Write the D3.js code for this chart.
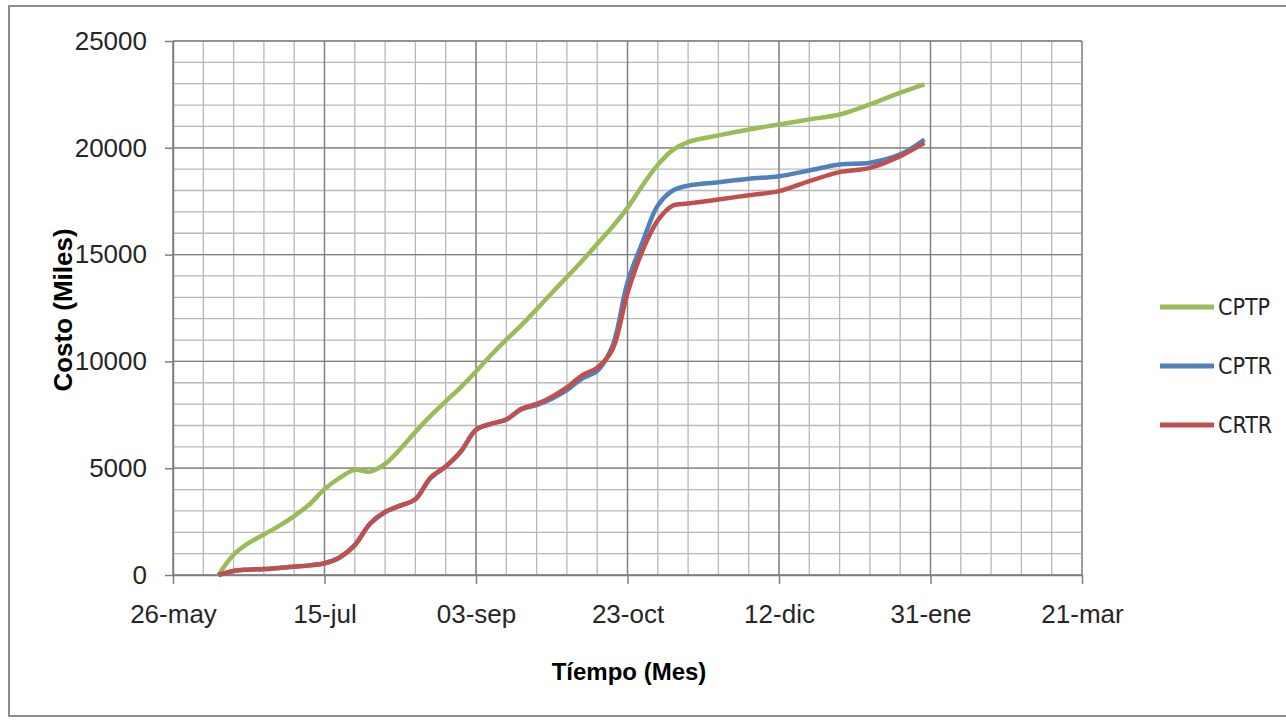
<!DOCTYPE html>
<html>
<head>
<meta charset="utf-8">
<script src="https://cdn.jsdelivr.net/npm/d3@7"></script>
<style>
  html, body { margin: 0; padding: 0; background: #ffffff; }
  svg { display: block; }
  text { font-family: "Liberation Sans", Arial, sans-serif; }
</style>
</head>
<body>
<svg id="chart" width="1286" height="728"></svg>
<script>
// Sample dates (cumulative cost readings)
const fechas = [
  "2015-06-10","2015-06-15","2015-06-20","2015-06-25","2015-06-30",
  "2015-07-05","2015-07-10","2015-07-15","2015-07-20","2015-07-25",
  "2015-07-30","2015-08-04","2015-08-09","2015-08-14","2015-08-19",
  "2015-08-24","2015-08-29","2015-09-03","2015-09-08","2015-09-13",
  "2015-09-18","2015-09-23","2015-09-28","2015-10-03","2015-10-08",
  "2015-10-13","2015-10-18","2015-10-23","2015-10-28","2015-11-02",
  "2015-11-07","2015-11-12","2015-11-22","2015-12-02","2015-12-12",
  "2015-12-22","2016-01-01","2016-01-11","2016-01-21","2016-01-29"
];

// Costo presupuestado del trabajo programado
const cptp = [
  0, 950, 1500, 1900, 2300,
  2760, 3300, 4020, 4550, 4920,
  4840, 5200, 5900, 6700, 7450,
  8130, 8800, 9530, 10300, 11020,
  11700, 12440, 13200, 13950, 14700,
  15500, 16300, 17190, 18250, 19200,
  19900, 20270, 20580, 20860, 21090,
  21330, 21560, 22030, 22580, 22970
];

// Costo presupuestado del trabajo realizado
const cptr = [
  0, 190, 250, 280, 330,
  390, 450, 550, 820, 1400,
  2400, 2950, 3250, 3550, 4550,
  5080, 5780, 6800, 7080, 7280,
  7750, 7950, 8250, 8650, 9200,
  9550, 10700, 13700, 15600, 17300,
  18000, 18230, 18390, 18550, 18670,
  18940, 19220, 19300, 19690, 20390
];

// Costo real del trabajo realizado
const crtr = [
  0, 190, 250, 280, 330,
  390, 450, 550, 820, 1400,
  2400, 2950, 3250, 3550, 4550,
  5080, 5780, 6800, 7080, 7280,
  7780, 8010, 8340, 8780, 9350,
  9700, 10550, 13200, 15200, 16600,
  17300, 17390, 17580, 17780, 17970,
  18440, 18860, 19060, 19610, 20230
];

const series = [
  { name: "CPTP", values: cptp, color: "#9bbb59" },
  { name: "CPTR", values: cptr, color: "#4f81bd" },
  { name: "CRTR", values: crtr, color: "#c0504d" }
];

const fechaInicio = "2015-05-26";
const fechaFin = "2016-03-21";
const yTicks = [0, 5000, 10000, 15000, 20000, 25000];
const meses = ["ene","feb","mar","abr","may","jun","jul","ago","sep","oct","nov","dic"];

const parse = d3.utcParse("%Y-%m-%d");
const fmtDia = d3.utcFormat("%d");
const fmtFecha = d => fmtDia(d) + "-" + meses[d.getUTCMonth()];

const svg = d3.select("#chart");
const W = 1286, H = 728;
const plot = { left: 173, right: 1082, top: 41, bottom: 575 };

// Chart frame
svg.append("rect")
  .attr("x", 9).attr("y", 6)
  .attr("width", W + 10).attr("height", 710)
  .attr("fill", "#ffffff")
  .attr("stroke", "#8c8c8c").attr("stroke-width", 2);

const x = d3.scaleUtc()
  .domain([parse(fechaInicio), parse(fechaFin)])
  .range([plot.left, plot.right]);

const y = d3.scaleLinear()
  .domain([0, 25000])
  .range([plot.bottom, plot.top]);

const start = parse(fechaInicio);
const majorX = d3.range(0, 301, 50).map(n => d3.utcDay.offset(start, n));
const minorX = d3.range(0, 301, 10).map(n => d3.utcDay.offset(start, n));
const minorY = d3.range(0, 25001, 1000);

const grid = svg.append("g");
// minor gridlines
grid.selectAll("line.vmin").data(minorX).join("line")
  .attr("x1", d => x(d)).attr("x2", d => x(d))
  .attr("y1", plot.top).attr("y2", plot.bottom)
  .attr("stroke", "#b8b8b8").attr("stroke-width", 1.3);
grid.selectAll("line.hmin").data(minorY).join("line")
  .attr("x1", plot.left).attr("x2", plot.right)
  .attr("y1", d => y(d)).attr("y2", d => y(d))
  .attr("stroke", "#b8b8b8").attr("stroke-width", 1.3);
// major gridlines
grid.selectAll("line.vmaj").data(majorX).join("line")
  .attr("x1", d => x(d)).attr("x2", d => x(d))
  .attr("y1", plot.top).attr("y2", plot.bottom)
  .attr("stroke", "#7f7f7f").attr("stroke-width", 1.3);
grid.selectAll("line.hmaj").data(yTicks).join("line")
  .attr("x1", plot.left).attr("x2", plot.right)
  .attr("y1", d => y(d)).attr("y2", d => y(d))
  .attr("stroke", "#7f7f7f").attr("stroke-width", 1.3);

// Axes
const xAxis = d3.axisBottom(x).tickValues(majorX).tickFormat(fmtFecha)
  .tickSizeInner(9).tickSizeOuter(0).tickPadding(21);
const yAxis = d3.axisLeft(y).tickValues(yTicks).tickFormat(d3.format("d"))
  .tickSizeInner(8).tickSizeOuter(0).tickPadding(18);

const gx = svg.append("g").attr("transform", `translate(0,${plot.bottom})`).call(xAxis);
const gy = svg.append("g").attr("transform", `translate(${plot.left},0)`).call(yAxis);
[gx, gy].forEach(g => {
  g.select(".domain").attr("stroke", "#7f7f7f").attr("stroke-width", 1.5);
  g.selectAll(".tick line").attr("stroke", "#7f7f7f").attr("stroke-width", 1.5);
  g.selectAll(".tick text")
    .attr("fill", "#262626")
    .style("font-family", '"Liberation Sans", Arial, sans-serif')
    .style("font-size", "26px");
});

// Series lines
const line = d3.line()
  .x((d, i) => x(parse(fechas[i])))
  .y(d => y(d))
  .curve(d3.curveCatmullRom.alpha(0.5));

svg.append("g").selectAll("path").data(series).join("path")
  .attr("d", s => line(s.values))
  .attr("fill", "none")
  .attr("stroke", s => s.color)
  .attr("stroke-width", 4.5)
  .attr("stroke-linejoin", "round")
  .attr("stroke-linecap", "butt");

// Axis titles
svg.append("text")
  .attr("x", 629).attr("y", 680)
  .attr("text-anchor", "middle")
  .style("font-weight", "bold").style("font-size", "24px")
  .attr("fill", "#000")
  .text("Tíempo (Mes)");

svg.append("text")
  .attr("transform", "translate(72,310) rotate(-90)")
  .attr("text-anchor", "middle")
  .style("font-weight", "bold").style("font-size", "26px")
  .attr("fill", "#000")
  .text("Costo (Miles)");

// Legend
const legend = svg.append("g").selectAll("g").data(series).join("g")
  .attr("transform", (d, i) => `translate(1160,${307 + i * 59})`);
legend.append("line")
  .attr("x1", 0).attr("x2", 54).attr("y1", 0).attr("y2", 0)
  .attr("stroke", d => d.color).attr("stroke-width", 5);
legend.append("text")
  .attr("x", 58).attr("y", 0).attr("dy", "0.36em")
  .attr("fill", "#262626")
  .style("font-size", "23px")
  .style("font-family", '"Liberation Sans Narrow", "DejaVu Sans Condensed", sans-serif')
  .text(d => d.name);
</script>
</body>
</html>
